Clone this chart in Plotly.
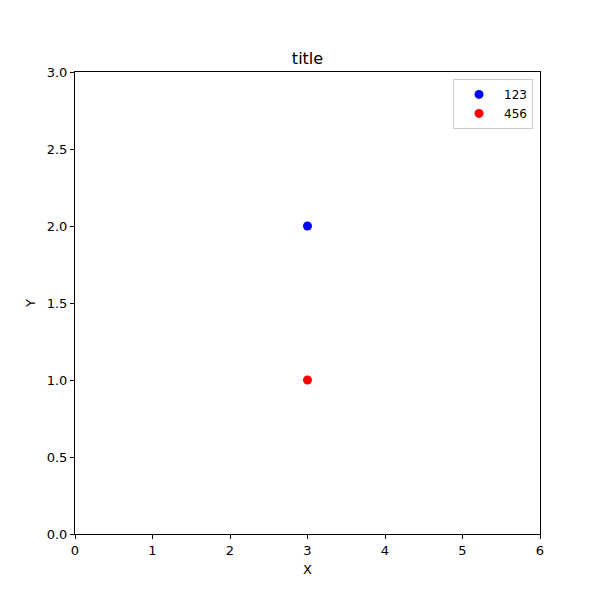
import plotly.graph_objects as go

series_names = ["123", "456"]
series_x = [[3], [3]]
series_y = [[2], [1]]
series_colors = ["blue", "red"]

fig = go.Figure()
for name, xs, ys, c in zip(series_names, series_x, series_y, series_colors):
    fig.add_trace(go.Scatter(x=xs, y=ys, mode="markers", name=name,
                             marker=dict(color=c, size=9)))

axis_common = dict(showline=True, linecolor="black", linewidth=1, mirror=True,
                   ticks="outside", ticklen=4, tickcolor="black", showgrid=False,
                   zeroline=False, tickfont=dict(size=13, color="black"))

fig.update_layout(
    width=600, height=600,
    paper_bgcolor="white", plot_bgcolor="white",
    font=dict(family="DejaVu Sans", color="black"),
    margin=dict(l=67, r=68, t=64, b=74),
    title=dict(text="title", x=0.5, xanchor="center", xref="paper",
               y=1 - 50 / 600, yanchor="middle", font=dict(size=16)),
    xaxis=dict(range=[0, 6], tickvals=[0, 1, 2, 3, 4, 5, 6],
               title=dict(text="X", font=dict(size=13), standoff=8), **axis_common),
    yaxis=dict(range=[0, 3], tickvals=[0, 0.5, 1, 1.5, 2, 2.5, 3],
               tickformat=".1f",
               title=dict(text="Y", font=dict(size=13), standoff=8), **axis_common),
    legend=dict(x=0.985, y=0.985, xanchor="right", yanchor="top",
                bordercolor="#cccccc", borderwidth=1, bgcolor="white",
                font=dict(size=12), tracegroupgap=0, itemwidth=40),
)

fig.write_html("out.html")
